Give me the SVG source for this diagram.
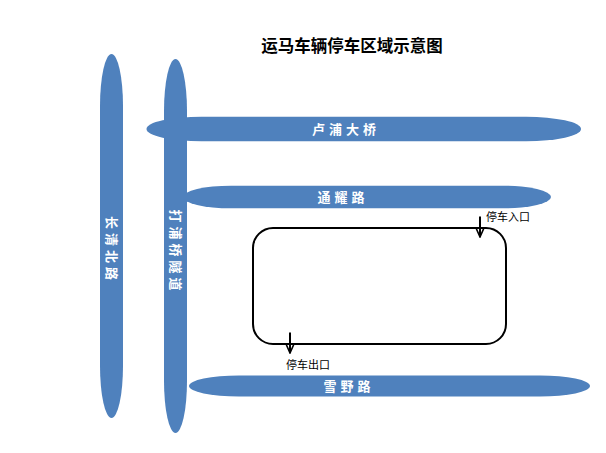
<svg xmlns="http://www.w3.org/2000/svg" width="606" height="453" viewBox="0 0 606 453">
<defs>
<style>
.road{fill:#4F81BD;}
.rl{fill:#fff;font-family:"Liberation Sans","Noto Sans CJK SC",sans-serif;font-size:13px;font-weight:bold;text-anchor:middle;letter-spacing:4px;}
.lbl{fill:#000;font-family:"Liberation Sans","Noto Sans CJK SC",sans-serif;font-size:11px;}
.title{fill:#000;font-family:"Liberation Sans","Noto Sans CJK SC",sans-serif;font-size:16.5px;font-weight:bold;text-anchor:middle;}
.arr{stroke:#000;stroke-width:2;fill:none;}
</style>
<marker id="ah" viewBox="0 0 10 10" refX="9" refY="5" markerWidth="5" markerHeight="5" orient="auto" markerUnits="strokeWidth">
<path d="M0,1 L9,5 L0,9" fill="none" stroke="#000" stroke-width="1.6"/>
</marker>
</defs>
<rect width="606" height="453" fill="#fff"/>
<text class="title" x="352" y="52">运马车辆停车区域示意图</text>
<g id="road-changqing">
<rect class="road" x="100" y="54" width="23" height="364" rx="11.5" ry="52"/>
<text class="rl" transform="translate(107,250) rotate(90)">长清北路</text>
</g>
<g id="road-lupu">
<rect class="road" x="146.5" y="116.8" width="434.5" height="24.4" rx="55" ry="12.2"/>
<text class="rl" x="346" y="133.5">卢浦大桥</text>
</g>
<g id="road-tongyao">
<rect class="road" x="183" y="185.7" width="368" height="22.6" rx="48" ry="11.3"/>
<text class="rl" x="343" y="202">通耀路</text>
</g>
<g id="road-xueye">
<rect class="road" x="189" y="375.5" width="401" height="21" rx="50" ry="10.5"/>
<text class="rl" x="349" y="390.5">雪野路</text>
</g>
<g id="road-dapuqiao">
<rect class="road" x="164" y="59" width="23" height="374" rx="11.5" ry="52"/>
<text class="rl" transform="translate(171,252) rotate(90)">打浦桥隧道</text>
</g>
<g id="parking">
<rect x="253" y="228" width="253" height="116" rx="20" ry="20" fill="#fff" stroke="#000" stroke-width="2"/>
</g>
<g id="connectors">
<line class="arr" x1="480" y1="216.5" x2="480" y2="237" marker-end="url(#ah)"/>
<line class="arr" x1="290" y1="332.5" x2="290" y2="353" marker-end="url(#ah)"/>
</g>
<g id="label-entry"><text class="lbl" x="486" y="221">停车入口</text></g>
<g id="label-exit"><text class="lbl" x="286" y="369">停车出口</text></g>
</svg>
